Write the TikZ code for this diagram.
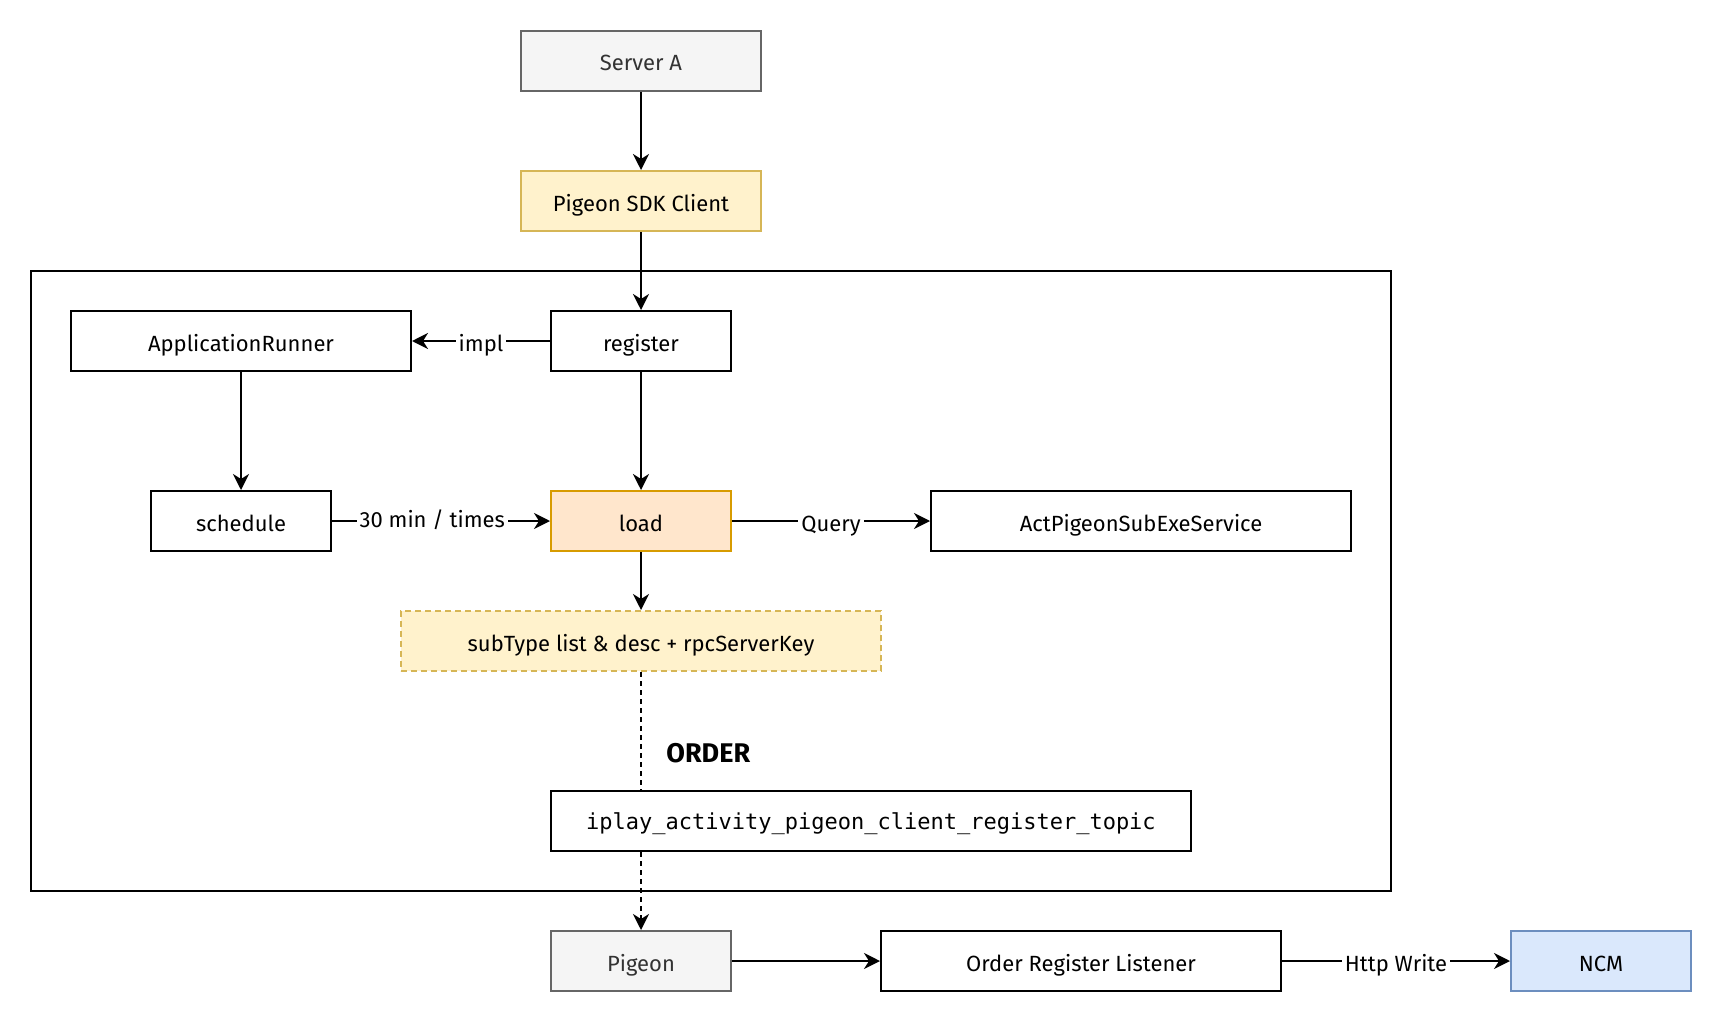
\documentclass[tikz,border=0pt]{standalone}
\usepackage{fontspec}
\setmainfont{Fira Sans}
\setmonofont{DejaVu Sans Mono}
\usetikzlibrary{arrows.meta}
\definecolor{grayfill}{HTML}{F5F5F5}
\definecolor{graydraw}{HTML}{666666}
\definecolor{graytext}{HTML}{333333}
\definecolor{yelfill}{HTML}{FFF2CC}
\definecolor{yeldraw}{HTML}{D6B656}
\definecolor{orfill}{HTML}{FFE6CC}
\definecolor{ordraw}{HTML}{D79B00}
\definecolor{blfill}{HTML}{DAE8FC}
\definecolor{bldraw}{HTML}{6C8EBF}
\tikzset{
  box/.style={draw=black, fill=white, line width=1pt, minimum height=30pt, inner sep=2pt, text height=11pt, text depth=1pt, font=\fontsize{11}{13}\selectfont},
  graybox/.style={box, fill=grayfill, draw=graydraw, text=graytext},
  yelbox/.style={box, fill=yelfill, draw=yeldraw},
  orbox/.style={box, fill=orfill, draw=ordraw},
  blbox/.style={box, fill=blfill, draw=bldraw},
  conn/.style={line width=1pt, -{Stealth[length=8pt, width=8pt, inset=2.5pt]}},
  elabel/.style={fill=white, inner sep=1.5pt, text height=11pt, text depth=1pt, font=\fontsize{11}{13}\selectfont},
}
\begin{document}
\begin{tikzpicture}[x=0.5pt, y=-0.5pt]
\useasboundingbox (0,0) rectangle (1722,1022);
% outer frame
\draw[line width=1pt] (31,271) rectangle (1391,891);
% nodes
\node[graybox, minimum width=120pt] (srv) at (641,61) {Server A};
\node[yelbox, minimum width=120pt] (sdk) at (641,201) {Pigeon SDK Client};
\node[box, minimum width=170pt] (app) at (241,341) {ApplicationRunner};
\node[box, minimum width=90pt] (reg) at (641,341) {register};
\node[box, minimum width=90pt] (sch) at (241,521) {schedule};
\node[orbox, minimum width=90pt] (load) at (641,521) {load};
\node[box, minimum width=210pt] (act) at (1141,521) {ActPigeonSubExeService};
\node[yelbox, dashed, dash pattern=on 3pt off 2pt, minimum width=240pt] (sub) at (641,641) {subType list \& desc + rpcServerKey};
\node[font=\bfseries\fontsize{13.5}{15}\selectfont, anchor=west, inner sep=0pt] (ord) at (666,753) {ORDER};
\node[graybox, minimum width=90pt] (pig) at (641,961) {Pigeon};
\node[box, minimum width=200pt] (orl) at (1081,961) {Order Register Listener};
\node[blbox, minimum width=90pt] (ncm) at (1601,961) {NCM};
% connectors
\draw[conn] (srv) -- (sdk);
\draw[conn] (sdk) -- (reg);
\draw[conn] (reg) -- node[elabel] {impl} (app);
\draw[conn] (app) -- (sch);
\draw[conn] (reg) -- (load);
\draw[conn] (sch) -- node[elabel, pos=0.46, yshift=2pt] {30 min / times} (load);
\draw[conn] (load) -- node[elabel] {Query} (act);
\draw[conn] (load) -- (sub);
\draw[conn, dash pattern=on 2.5pt off 2pt] (sub) -- (pig);
\node[box, minimum width=320pt, text height=9pt, text depth=1pt, font=\ttfamily\fontsize{11}{13}\selectfont] (topic) at (871,821) {iplay\_activity\_pigeon\_client\_register\_topic};
\draw[conn] (pig) -- (orl);
\draw[conn] (orl) -- node[elabel] {Http Write} (ncm);
\end{tikzpicture}
\end{document}
